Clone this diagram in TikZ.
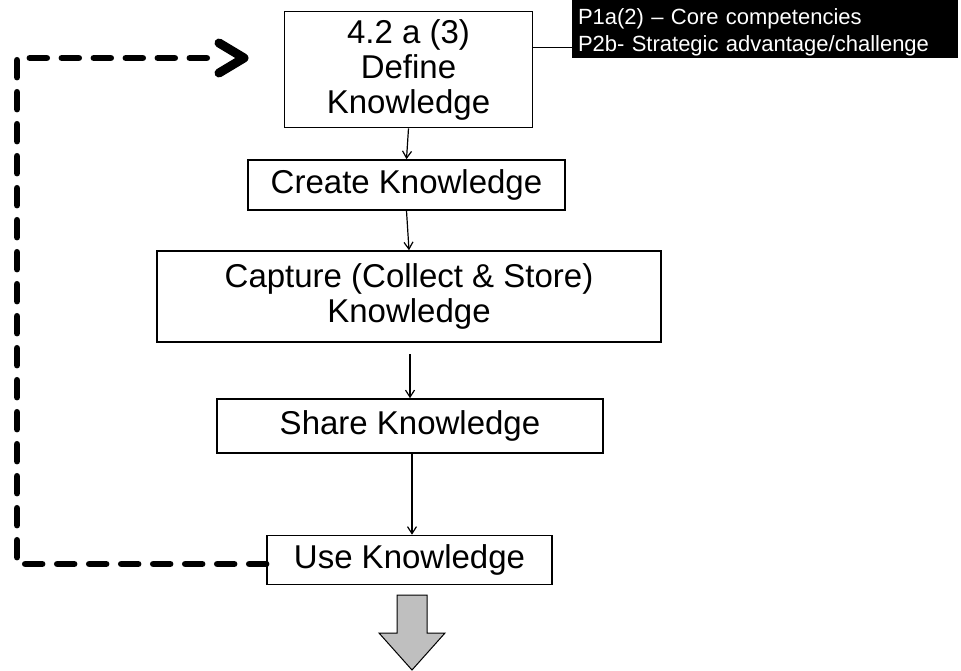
\documentclass[tikz,border=0pt]{standalone}
\usepackage{fontspec}
\setmainfont{Liberation Sans}
\usetikzlibrary{arrows.meta}
\begin{document}
\begin{tikzpicture}[x=1pt,y=-1pt,
  stepbox/.style={draw=black,line width=1.6pt,fill=white,inner sep=0pt,align=center,
    font=\fontsize{33}{35}\selectfont},
  flow/.style={-{Straight Barb[length=7pt,width=9pt]},line width=1.2pt},
  loop/.style={line width=6.5pt,dash pattern=on 17pt off 15pt,line cap=round},
  notebox/.style={fill=black,inner sep=0pt},
  notetext/.style={text=white,inner sep=0pt,align=left,
    font=\fontsize{22}{27}\selectfont}]
\useasboundingbox (0,0) rectangle (961,671);
\node[stepbox,minimum width=248pt,minimum height=116pt] (def) at (408.5,69.5) {4.2 a (3)\\Define\\Knowledge};
\node[stepbox,minimum width=317pt,minimum height=50pt] (cre) at (406.5,185) {Create Knowledge};
\node[stepbox,minimum width=504pt,minimum height=91pt] (cap) at (409,296.5) {Capture (Collect \& Store)\\Knowledge};
\node[stepbox,minimum width=386pt,minimum height=54pt] (sha) at (410,426) {Share Knowledge};
\node[stepbox,minimum width=285pt,minimum height=49pt] (use) at (409.5,560) {Use Knowledge};
\node[notebox,minimum width=386pt,minimum height=58pt] (note) at (765,29) {};
\node[notetext,text width=378pt] (notet) at (767,32) {P1a(2) -- Core competencies\\P2b- Strategic advantage/challenge};
\draw[line width=1pt] (def.east |- 0,48) -- (note.west |- 0,48);
\draw[flow] (def.south) -- (cre.north);
\draw[flow] (cre.south) -- (cap.north);
\coordinate (cs) at (410,354);
\draw[flow] (cs) -- (sha.north -| cs);
\draw[flow] (sha.south -| 412,0) -- (use.north -| 412,0);
\coordinate (lb) at (17,564);
\coordinate (lt) at (17,58);
\coordinate (tip) at (244,58);
\draw[loop] (use.west |- lb) -- (lb) -- (lt) -- (220,58);
\draw[line width=9pt,line cap=round,line join=round] (219,43) -- (tip) -- (219,73);
\coordinate (dn) at (412,595);
\draw[line width=1pt,fill=gray!50,line join=miter]
  ([xshift=-15pt]dn) -- ([xshift=15pt]dn) -- ++(0,38) -- (445,633) -- (412,670)
  -- (379,633) -- ([xshift=-15pt,yshift=-38pt]dn) -- cycle;
\end{tikzpicture}
\end{document}
